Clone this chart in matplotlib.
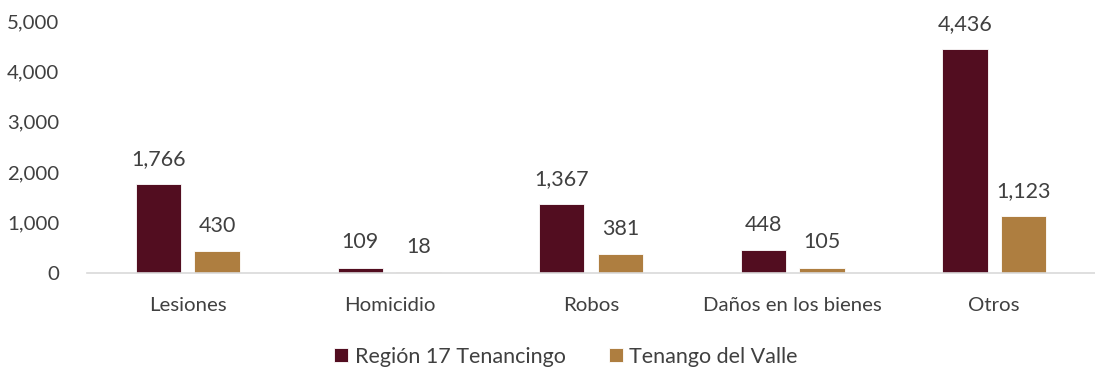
import numpy as np
import matplotlib.pyplot as plt

plt.rcParams['font.family'] = ['Lato', 'DejaVu Sans']

# Delitos por tipo
categorias = ['Lesiones', 'Homicidio', 'Robos', 'Daños en los bienes', 'Otros']
region_17 = [1766, 109, 1367, 448, 4436]
tenango = [430, 18, 381, 105, 1123]
series = ['Región 17 Tenancingo', 'Tenango del Valle']

color_region = '#520D20'
color_tenango = '#AE7E40'
gris = '#404040'

fig = plt.figure(figsize=(10.95, 3.68), dpi=100)
ax = fig.add_axes([0.0795, 0.258, 0.9205, 0.685])

x = np.arange(len(categorias))
ancho = 0.225
b1 = ax.bar(x - 0.145, region_17, ancho, color=color_region, edgecolor='white', linewidth=0.6, label=series[0])
b2 = ax.bar(x + 0.145, tenango, ancho, color=color_tenango, edgecolor='white', linewidth=0.6, label=series[1])

for barras in (b1, b2):
    ax.bar_label(barras, labels=[f'{v:,}' for v in barras.datavalues], padding=11, fontsize=15.5, color=gris)

ax.set_xlim(-0.5, len(categorias) - 0.5)
ax.set_ylim(0, 5000)
ax.set_yticks(range(0, 5001, 1000))
ax.yaxis.set_major_formatter(plt.FuncFormatter(lambda v, p: f'{int(v):,}'))
ax.set_xticks(x)
ax.set_xticklabels(categorias)
ax.tick_params(axis='both', length=0, labelsize=14.7, labelcolor=gris)
ax.tick_params(axis='y', pad=20)
ax.tick_params(axis='x', pad=17)

for lado in ['top', 'right', 'left']:
    ax.spines[lado].set_visible(False)
ax.spines['bottom'].set_color('#D9D9D9')
ax.spines['bottom'].set_linewidth(1.2)

ax.legend(loc='upper center', bbox_to_anchor=(0.475, -0.215), ncol=2, frameon=False,
          fontsize=15.5, labelcolor=gris, handlelength=0.65, handleheight=0.65,
          handletextpad=0.3, columnspacing=2.0)

fig.savefig('out.png', dpi=100)
